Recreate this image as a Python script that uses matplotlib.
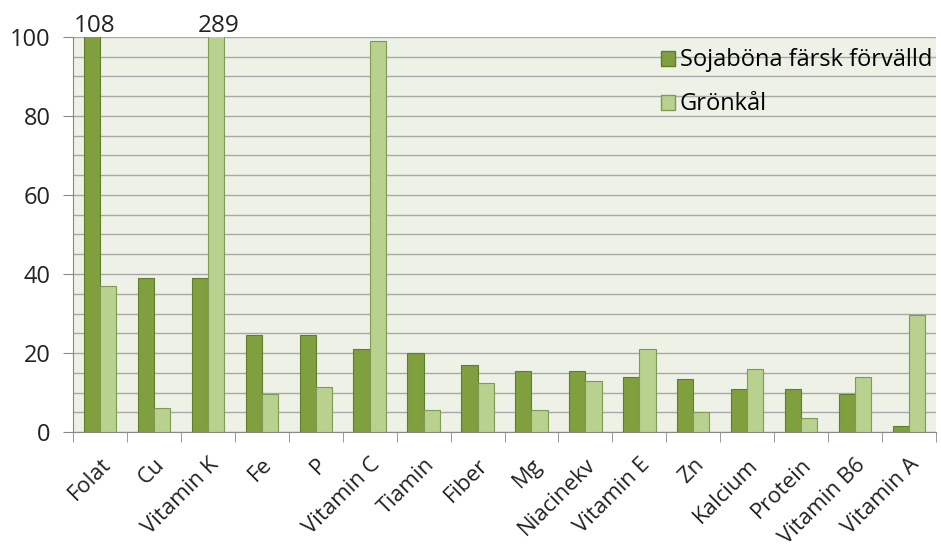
import matplotlib
matplotlib.use("Agg")
import matplotlib.pyplot as plt
import numpy as np
from matplotlib.patches import Patch

CATEGORIES = ["Folat", "Cu", "Vitamin K", "Fe", "P", "Vitamin C", "Tiamin",
              "Fiber", "Mg", "Niacinekv", "Vitamin E", "Zn", "Kalcium",
              "Protein", "Vitamin B6", "Vitamin A"]
SOJA = [108, 39, 39, 24.5, 24.5, 21, 20, 17, 15.5, 15.5, 14, 13.5, 11, 11, 9.5, 1.5]
GRONKAL = [37, 6, 289, 9.5, 11.5, 99, 5.5, 12.5, 5.5, 13, 21, 5, 16, 3.5, 14, 29.5]
SERIES = ["Sojaböna färsk förvälld", "Grönkål"]
YMAX = 100

DARK = "#80a040"
LIGHT = "#b9d18f"

plt.rcParams["font.family"] = ["Open Sans", "DejaVu Sans"]

fig = plt.figure(figsize=(9.41, 5.47), dpi=100)
ax = fig.add_axes([0.0776, 0.2102, 0.9171, 0.7222])
ax.set_facecolor("#eef2e6")

x = np.arange(len(CATEGORIES))
w = 0.3
ax.bar(x - w / 2, SOJA, width=w, color=DARK, edgecolor="#5f7d2c", linewidth=0.8, zorder=3)
ax.bar(x + w / 2, GRONKAL, width=w, color=LIGHT, edgecolor="#7f9a55", linewidth=0.8, zorder=3)

# values beyond the axis top
for xs, vals in ((x - w / 2, SOJA), (x + w / 2, GRONKAL)):
    for xi, v in zip(xs, vals):
        if v > YMAX:
            ax.text(xi + 0.05, YMAX - 0.2, f"{v:g}", ha="center", va="bottom",
                    fontsize=17.5, color="#222222", clip_on=False)

ax.set_xlim(-0.5, len(CATEGORIES) - 0.5)
ax.set_ylim(0, YMAX)
ax.set_yticks(range(0, 101, 20))
ax.set_yticks(range(0, 101, 5), minor=True)
ax.grid(axis="y", which="both", color="#a8a8a8", linewidth=1, zorder=0)
ax.tick_params(axis="y", which="major", length=7, labelsize=17, colors="#888888",
               labelcolor="#222222", direction="out", pad=9)
ax.tick_params(axis="y", which="minor", length=0)

ax.set_xticks(x)
ax.set_xticklabels(CATEGORIES, rotation=45, ha="right", rotation_mode="anchor",
                   fontsize=16, color="#222222")
ax.set_xticks(np.arange(-0.5, len(CATEGORIES)), minor=True)
ax.tick_params(axis="x", which="major", length=0, pad=16)
ax.tick_params(axis="x", which="minor", length=7, color="#888888", direction="out")

for s in ("top", "right"):
    ax.spines[s].set_visible(False)
for s in ("left", "bottom"):
    ax.spines[s].set_color("#888888")

handles = [Patch(facecolor=DARK, edgecolor="#5f7d2c", label=SERIES[0]),
           Patch(facecolor=LIGHT, edgecolor="#7f9a55", label=SERIES[1])]
leg = ax.legend(handles=handles, loc="upper left", bbox_to_anchor=(0.67, 0.995),
                frameon=False, fontsize=17, handlelength=0.6, handleheight=0.6,
                handletextpad=0.2, labelspacing=0.85, borderaxespad=0)

fig.savefig("out.png", dpi=100)
